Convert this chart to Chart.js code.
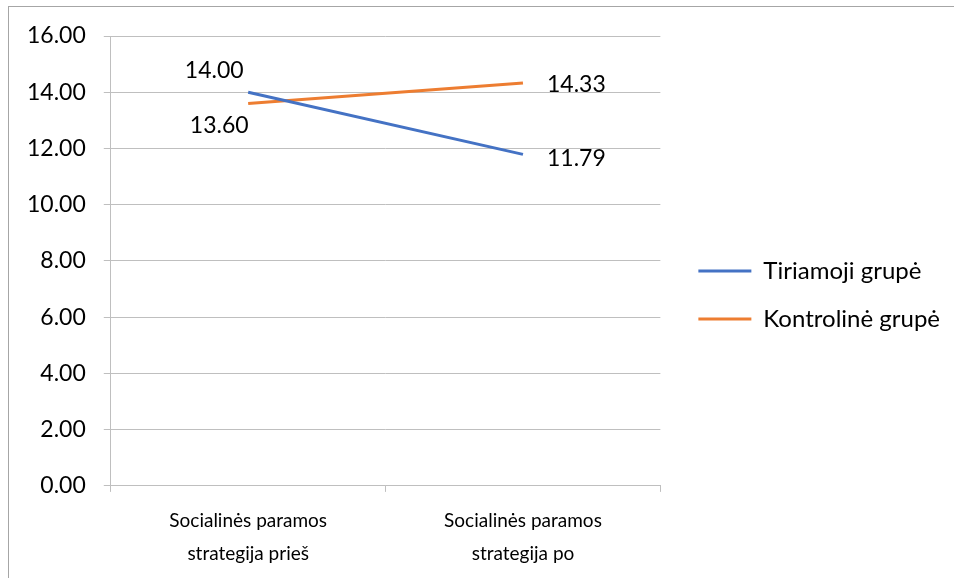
<!DOCTYPE html>
<html>
<head>
<meta charset="utf-8">
<script src="https://cdn.jsdelivr.net/npm/chart.js@4.4.1/dist/chart.umd.min.js"></script>
<style>
    html, body { margin: 0; padding: 0; background: #fff; }
    #frame {
        position: absolute;
        left: 8px;
        top: 6px;
        width: 945px;
        height: 571px;
        border-left: 1px solid #a6a6a6;
        border-top: 1px solid #a6a6a6;
    }
</style>
</head>
<body>
<div id="frame"><canvas id="lineChart"></canvas></div>
<script>
const categories = [
    ['Socialinės paramos', 'strategija prieš'],
    ['Socialinės paramos', 'strategija po']
];
const seriesNames = ['Tiriamoji grupė', 'Kontrolinė grupė'];
const tiriamoji = [14.00, 11.79];
const kontroline = [13.60, 14.33];
const yTicks = [0, 2, 4, 6, 8, 10, 12, 14, 16];

const colors = ['#4472C4', '#ED7D31'];
const fontFamily = 'Lato, "Open Sans", sans-serif';

// where each value label sits relative to its point: [dx, dy, align]
const labelPlacement = [
    [[-34, -22, 'center'], [24, 4, 'left']],
    [[-29, 22, 'center'], [24, 2, 'left']]
];

const valueLabels = {
    id: 'valueLabels',
    afterDatasetsDraw(chart) {
        const ctx = chart.ctx;
        ctx.save();
        ctx.font = '23px ' + fontFamily;
        ctx.fillStyle = '#000';
        ctx.textBaseline = 'middle';
        chart.data.datasets.forEach((ds, i) => {
            chart.getDatasetMeta(i).data.forEach((pt, j) => {
                const p = labelPlacement[i][j];
                ctx.textAlign = p[2];
                ctx.fillText(ds.data[j].toFixed(2), pt.x + p[0], pt.y + p[1]);
            });
        });
        ctx.restore();
    }
};

function initChart() {
    const ctx = document.getElementById('lineChart').getContext('2d');
    new Chart(ctx, {
        type: 'line',
        data: {
            labels: categories,
            datasets: [{
                label: seriesNames[0],
                data: tiriamoji,
                borderColor: colors[0],
                backgroundColor: colors[0],
                borderWidth: 3,
                pointRadius: 0,
                tension: 0
            }, {
                label: seriesNames[1],
                data: kontroline,
                borderColor: colors[1],
                backgroundColor: colors[1],
                borderWidth: 3,
                pointRadius: 0,
                tension: 0
            }]
        },
        options: {
            responsive: true,
            maintainAspectRatio: false,
            animation: false,
            layout: {
                padding: { top: 1, right: 4, bottom: -4, left: 0 }
            },
            scales: {
                x: {
                    offset: true,
                    grid: {
                        offset: true,
                        drawOnChartArea: false,
                        color: '#bfbfbf',
                        tickLength: 6
                    },
                    border: { color: '#bfbfbf' },
                    ticks: {
                        color: '#000',
                        font: { family: fontFamily, size: 19, lineHeight: 1.74 },
                        padding: 12,
                        maxRotation: 0
                    }
                },
                y: {
                    min: 0,
                    max: 16,
                    afterBuildTicks: function(axis) {
                        axis.ticks = yTicks.map(v => ({ value: v }));
                    },
                    // room above the plot, legend keeps the full height
                    afterFit: function(axis) {
                        axis.paddingTop = 29;
                    },
                    grid: {
                        color: '#bfbfbf',
                        tickLength: 7
                    },
                    border: { color: '#bfbfbf' },
                    ticks: {
                        color: '#000',
                        font: { family: fontFamily, size: 23 },
                        padding: 18,
                        callback: function(value) {
                            return value.toFixed(2);
                        }
                    }
                },
                // empty right axis, only keeps a gap between plot and legend
                gap: {
                    position: 'right',
                    grid: { display: false },
                    border: { display: false },
                    ticks: { display: false },
                    afterFit: function(axis) {
                        axis.width = 14;
                    }
                }
            },
            plugins: {
                legend: {
                    position: 'right',
                    maxWidth: 320,
                    labels: {
                        color: '#000',
                        font: { family: fontFamily, size: 24 },
                        usePointStyle: true,
                        pointStyle: 'line',
                        pointStyleWidth: 53,
                        padding: 24
                    }
                },
                tooltip: { enabled: false }
            }
        },
        plugins: [valueLabels]
    });
}

document.addEventListener('DOMContentLoaded', function() {
    Promise.all([
        document.fonts.load('24px Lato'),
        document.fonts.load('23px Lato')
    ]).then(initChart, initChart);
});
</script>
</body>
</html>
